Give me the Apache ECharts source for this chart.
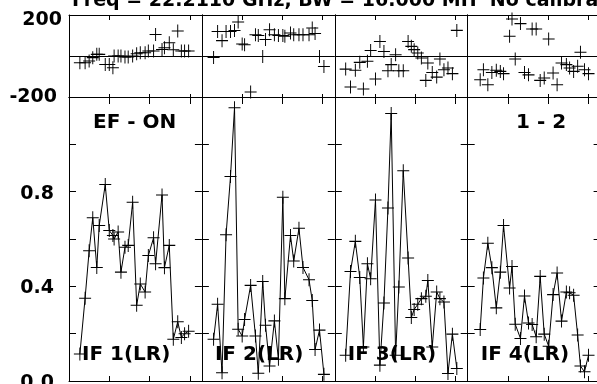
<!DOCTYPE html>
<html><head><meta charset="utf-8">
<script src="https://cdn.jsdelivr.net/npm/echarts@6/dist/echarts.min.js"></script>
<style>html,body{margin:0;padding:0;background:#fff}#c{width:597px;height:384px}</style>
</head><body><div id="c"></div>
<script>
const titleText = 'Freq = 22.2110 GHz, BW = 16.000 MH  No calibration';
const panelNames = ['IF 1(LR)', 'IF 2(LR)', 'IF 3(LR)', 'IF 4(LR)'];
const topLeftLabel = 'EF - ON';
const topRightLabel = '1 - 2';

const timeP1 = [2.7, 4.0, 5.0, 5.9, 6.9, 7.5, 9.0, 10.0, 10.9, 11.2, 12.2, 12.9, 13.9, 14.7, 15.8, 16.8, 17.7, 18.9, 19.7, 21.0, 21.5, 23.1, 23.7, 24.9, 25.9, 27.0, 27.9, 28.7, 29.7];
const ampP1 = [0.114, 0.35, 0.55, 0.69, 0.48, 0.657, 0.83, 0.636, 0.615, 0.60, 0.63, 0.46, 0.565, 0.573, 0.755, 0.32, 0.41, 0.376, 0.53, 0.605, 0.495, 0.786, 0.479, 0.573, 0.176, 0.25, 0.184, 0.2, 0.21];
const phaseP1 = [-33, -33, -24, -8, 8, 8, -41, -41, -57, 0, 0, 0, -5, -5, 0, 11, 16, 16, 24, 24, 105, 32, 40, 65, 30, 122, 24, 24, 24];

const timeP2 = [2.9, 3.9, 5.0, 6.0, 7.1, 8.1, 9.0, 10.0, 10.6, 12.1, 13.3, 14.0, 15.1, 15.8, 16.8, 18.0, 19.0, 20.1, 20.6, 22.0, 22.8, 24.1, 25.1, 26.6, 27.4, 28.1, 29.2, 30.3];
const ampP2 = [0.176, 0.324, 0.035, 0.618, 0.864, 1.155, 0.219, 0.19, 0.26, 0.404, 0.19, 0.033, 0.42, 0.236, 0.063, 0.254, 0.092, 0.776, 0.348, 0.615, 0.507, 0.645, 0.48, 0.428, 0.34, 0.133, 0.215, 0.028];
const phaseP2 = [-7, 120, 75, 120, 120, 124, 166, 59, 55, -176, 104, 100, -2, 80, 128, 104, 100, 100, 96, 112, 104, 104, 104, 104, 137, 110, -2, -51];

const timeP3 = [2.7, 3.9, 5.1, 6.2, 7.1, 8.1, 8.9, 10.1, 11.2, 12.2, 13.2, 14.0, 15.1, 15.9, 17.0, 18.2, 19.0, 19.7, 20.6, 21.5, 22.6, 23.1, 24.2, 25.3, 26.1, 27.1, 28.1, 29.2, 30.3];
const ampP3 = [0.109, 0.463, 0.59, 0.437, 0.144, 0.495, 0.432, 0.765, 0.067, 0.33, 0.731, 1.13, 0.109, 0.397, 0.888, 0.52, 0.268, 0.302, 0.324, 0.348, 0.358, 0.425, 0.144, 0.376, 0.348, 0.334, 0.032, 0.198, 0.053];
const phaseP3 = [-64, -151, -70, -31, -161, -26, 27, -112, 71, 22, -72, -42, 6, -72, -72, 71, 47, 31, 15, -10, -119, -34, -80, -103, -15, -67, -59, -86, 125];

const timeP4 = [3.1, 3.9, 5.0, 6.0, 7.1, 8.1, 8.9, 10.4, 11.0, 11.8, 13.1, 14.1, 15.1, 16.0, 17.0, 18.0, 19.0, 20.1, 21.2, 22.2, 23.3, 24.5, 25.3, 26.3, 27.3, 28.0, 29.0, 30.0];
const ampP4 = [0.218, 0.435, 0.582, 0.479, 0.309, 0.46, 0.657, 0.393, 0.484, 0.24, 0.18, 0.359, 0.245, 0.239, 0.187, 0.442, 0.198, 0.147, 0.365, 0.456, 0.253, 0.376, 0.373, 0.362, 0.194, 0.063, 0.039, 0.109];
const phaseP4 = [-116, -67, -140, -80, -70, -75, -86, 96, 180, -15, 158, -80, -92, 132, 132, -119, -107, 83, -83, -140, -34, -42, -59, -75, -50, 18, -67, -86];

const phaseTicks = [-200, 200];
const ampTickLabels = [0.0, 0.4, 0.8];

const times = [timeP1, timeP2, timeP3, timeP4];
const amps = [ampP1, ampP2, ampP3, ampP4];
const phases = [phaseP1, phaseP2, phaseP3, phaseP4];

const FONT = 'DejaVu Sans';
const L0 = 69, W = 132.9;
const PH_TOP = 15, PH_H = 82, AM_TOP = 97, AM_H = 284;
const CROSS = 'path://M0,-1L0,1M-1,0L1,0';
const black = '#000';

const grid = [], xAxis = [], yAxis = [], series = [], graphic = [];

function xAx(g, pos, len) {
  xAxis.push({
    gridIndex: g, type: 'value', min: 0, max: 33, interval: 10, position: pos,
    axisLine: { show: true, onZero: false, lineStyle: { color: black, width: 1 } },
    axisTick: { show: true, inside: true, length: len, lineStyle: { color: black, width: 1 } },
    axisLabel: { show: false }, splitLine: { show: false }
  });
  return xAxis.length - 1;
}
function yAx(g, pos, o) {
  yAxis.push(Object.assign({
    gridIndex: g, type: 'value', position: pos,
    axisLine: { show: true, onZero: false, lineStyle: { color: black, width: 1 } },
    splitLine: { show: false }
  }, o));
  return yAxis.length - 1;
}

for (let i = 0; i < 4; i++) {
  const left = L0 + i * W;
  // phase grid
  grid.push({ left: left, top: PH_TOP, width: W, height: PH_H, outerBoundsMode: 'none' });
  const gp = grid.length - 1;
  const xpb = xAx(gp, 'bottom', 3);
  xAx(gp, 'top', 5);
  const ypl = yAx(gp, 'left', {
    min: -200, max: 200, interval: 200,
    axisTick: { show: false },
    splitLine: { show: true, lineStyle: { color: black, width: 1 } },
    axisLabel: i === 0 ? {
      show: true, margin: 7, color: black,
      fontFamily: FONT, fontWeight: 'bold', fontSize: 19,
      formatter: v => phaseTicks.indexOf(v) >= 0 ? (v > 0 ? '{a|' + v + '}' : '{b|' + v + '}') : '',
      rich: {
        a: { fontFamily: FONT, fontWeight: 'bold', fontSize: 19, color: black, padding: [10, 0, 0, 0] },
        b: { fontFamily: FONT, fontWeight: 'bold', fontSize: 19, color: black, padding: [0, 5, 0, 0] }
      }
    } : { show: false }
  });
  yAx(gp, 'right', { min: -200, max: 200, interval: 200, axisTick: { show: false }, axisLabel: { show: false } });

  // amplitude grid
  grid.push({ left: left, top: AM_TOP, width: W, height: AM_H, outerBoundsMode: 'none' });
  const ga = grid.length - 1;
  const xab = xAx(ga, 'bottom', 5);
  xAx(ga, 'top', 7);
  const yal = yAx(ga, 'left', {
    min: 0, max: 1.2, interval: 0.2,
    axisTick: { show: true, inside: true, length: 7, lineStyle: { color: black, width: 1 } },
    axisLabel: i === 0 ? {
      show: true, margin: 15, color: black,
      fontFamily: FONT, fontWeight: 'bold', fontSize: 19,
      formatter: v => ampTickLabels.some(t => Math.abs(t - v) < 1e-6) ? '{a|' + v.toFixed(1) + '}' : '',
      rich: { a: { fontFamily: FONT, fontWeight: 'bold', fontSize: 19, color: black, padding: [4, 0, 0, 0] } }
    } : { show: false }
  });
  yAx(ga, 'right', {
    min: 0, max: 1.2, interval: 0.2,
    axisTick: { show: true, inside: true, length: 7, lineStyle: { color: black, width: 1 } },
    axisLabel: { show: false }
  });

  const t = times[i];
  series.push({
    type: 'scatter', xAxisIndex: xpb, yAxisIndex: ypl,
    data: t.map((x, k) => [x, phases[i][k]]),
    symbol: CROSS, symbolSize: [12, 13], symbolKeepAspect: false,
    itemStyle: { color: 'rgba(0,0,0,0)', borderColor: black, borderWidth: 1, opacity: 1 },
    animation: false, silent: true
  });
  series.push({
    type: 'line', xAxisIndex: xab, yAxisIndex: yal,
    data: t.map((x, k) => [x, amps[i][k]]),
    symbol: CROSS, symbolSize: [12, 13], symbolKeepAspect: false, showSymbol: true,
    lineStyle: { color: black, width: 1 },
    itemStyle: { color: 'rgba(0,0,0,0)', borderColor: black, borderWidth: 1, opacity: 1 },
    animation: false, silent: true
  });

  graphic.push({
    type: 'text', left: left + 13, top: 345, z: 100,
    style: { text: panelNames[i], font: 'bold 20px "DejaVu Sans"', fill: black }
  });
}

graphic.push({ type: 'text', left: 72, top: -8, z: 100,
  style: { text: titleText, font: 'bold 19px "DejaVu Sans"', fill: black } });
graphic.push({ type: 'text', left: 93, top: 113, z: 100,
  style: { text: topLeftLabel, font: 'bold 20px "DejaVu Sans"', fill: black } });
graphic.push({ type: 'text', left: 516, top: 113, z: 100,
  style: { text: topRightLabel, font: 'bold 20px "DejaVu Sans"', fill: black } });

const chart = echarts.init(document.getElementById('c'), null, { renderer: 'canvas' });
chart.setOption({
  animation: false,
  backgroundColor: '#fff',
  grid, xAxis, yAxis, series, graphic
});
</script>
</body></html>
